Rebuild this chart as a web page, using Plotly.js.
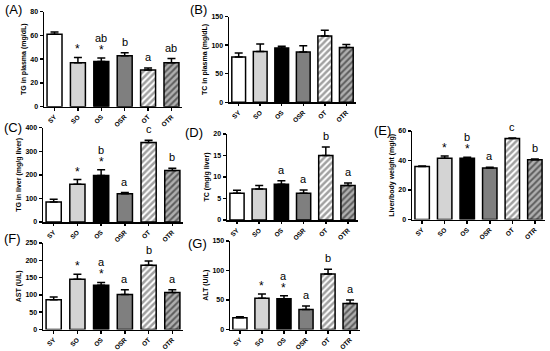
<!DOCTYPE html>
<html>
<head>
<meta charset="utf-8">
<script src="https://cdn.plot.ly/plotly-3.0.1.min.js"></script>
<style>
html,body{margin:0;padding:0;background:#fff;}
#chart{width:550px;height:351px;}
</style>
</head>
<body>
<div id="chart"></div>
<script>
// ---- data ----
var categories = ["SY", "SO", "OS", "OSR", "OT", "OTR"];

var tgPlasma      = [61, 37, 38, 43, 31, 37];
var tgPlasmaErr   = [2, 4.5, 3, 2.5, 1.5, 3.5];
var tgPlasmaStar  = ["", "*", "*", "", "", ""];
var tgPlasmaLet   = ["", "", "ab", "b", "a", "ab"];

var tcPlasma      = [79, 89, 95, 88, 116, 96];
var tcPlasmaErr   = [7, 13, 3, 11, 10, 5];
var tcPlasmaStar  = ["", "", "", "", "", ""];
var tcPlasmaLet   = ["", "", "", "", "", ""];

var tgLiver       = [85, 160, 197, 120, 337, 218];
var tgLiverErr    = [12, 20, 25, 5, 10, 10];
var tgLiverStar   = ["", "*", "*", "", "", ""];
var tgLiverLet    = ["", "", "b", "a", "c", "b"];

var tcLiver       = [6.2, 7.2, 8.3, 6.2, 15, 8];
var tcLiverErr    = [0.7, 0.8, 0.8, 0.8, 2, 0.6];
var tcLiverStar   = ["", "", "", "", "", ""];
var tcLiverLet    = ["", "", "a", "a", "b", "a"];

var liverBody     = [36, 41.5, 41.5, 35, 55, 40.5];
var liverBodyErr  = [0.3, 1.5, 0.7, 0.5, 0.3, 0.5];
var liverBodyStar = ["", "*", "*", "", "", ""];
var liverBodyLet  = ["", "", "b", "a", "c", "b"];

var ast           = [86, 145, 128, 101, 186, 107];
var astErr        = [8, 15, 8, 14, 12, 8];
var astStar       = ["", "*", "*", "", "", ""];
var astLet        = ["", "", "a", "a", "b", "a"];

var alt           = [20, 53, 52, 34, 94, 44];
var altErr        = [1.5, 7, 5, 6, 8, 6];
var altStar       = ["", "*", "*", "", "", ""];
var altLet        = ["", "", "a", "a", "b", "a"];

// ---- styles ----
var barColors   = ["#ffffff", "#d4d4d4", "#000000", "#7f7f7f", "#ffffff", "#5e5e5e"];
var patShapes   = ["", "", "", "", "/", "/"];

var W = 550, H = 351;
function px(a, b) { return [a / W, b / W]; }
function py(top, bottom) { return [1 - bottom / H, 1 - top / H]; }

var panels = [
  {id: "", vals: tgPlasma, err: tgPlasmaErr, star: tgPlasmaStar, lett: tgPlasmaLet,
   title: "TG in plasma (mg/dL)", ymax: 80, dtick: 20, x: px(44, 182), y: py(11.7, 106.7),
   label: "(A)", lx: 3, ly: 10},
  {id: "2", vals: tcPlasma, err: tcPlasmaErr, star: tcPlasmaStar, lett: tcPlasmaLet,
   title: "TC in plasma (mg/dL)", ymax: 150, dtick: 50, x: px(229, 356), y: py(16.5, 102.3),
   label: "(B)", lx: 188, ly: 10},
  {id: "3", vals: tgLiver, err: tgLiverErr, star: tgLiverStar, lett: tgLiverLet,
   title: "TG in liver (mg/g liver)", ymax: 400, dtick: 100, x: px(43, 183), y: py(127.7, 222),
   label: "(C)", lx: 2, ly: 128},
  {id: "4", vals: tcLiver, err: tcLiverErr, star: tcLiverStar, lett: tcLiverLet,
   title: "TC (mg/g liver)", ymax: 20, dtick: 5, x: px(227, 358), y: py(134, 220),
   label: "(D)", lx: 183, ly: 132},
  {id: "5", vals: liverBody, err: liverBodyErr, star: liverBodyStar, lett: liverBodyLet,
   title: "Liver/body weight (mg/g)", ymax: 60, dtick: 20, x: px(412, 545), y: py(131, 219.5),
   label: "(E)", lx: 372, ly: 131},
  {id: "6", vals: ast, err: astErr, star: astStar, lett: astLet,
   title: "AST (U/L)", ymax: 250, dtick: 50, x: px(43, 183), y: py(243, 329.5),
   label: "(F)", lx: 2, ly: 239},
  {id: "7", vals: alt, err: altErr, star: altStar, lett: altLet,
   title: "ALT (U/L)", ymax: 150, dtick: 50, x: px(230, 360), y: py(241, 329.5),
   label: "(G)", lx: 186, ly: 243}
];

var FONT = "Liberation Sans, Arial, sans-serif";
var traces = [];
var layout = {
  width: W, height: H,
  margin: {l: 0, r: 0, t: 0, b: 0},
  paper_bgcolor: "#fff", plot_bgcolor: "rgba(0,0,0,0)",
  showlegend: false,
  font: {family: FONT, color: "#000"},
  annotations: []
};

panels.forEach(function (p) {
  var xa = "x" + p.id, ya = "y" + p.id;
  var zeros = p.vals.map(function () { return 0; });
  traces.push({
    type: "bar", x: categories, y: p.vals, xaxis: xa, yaxis: ya,
    width: 0.64,
    marker: {
      color: barColors,
      line: {color: "#000", width: 1.5},
      pattern: {shape: patShapes, fgcolor: "#000000", bgcolor: barColors,
                size: 4.5, solidity: 0.55, fillmode: "overlay"}
    },
    error_y: {type: "data", symmetric: false, array: p.err, arrayminus: zeros,
              color: "#000", thickness: 1.5, width: 4},
    hoverinfo: "none"
  });
  layout["xaxis" + p.id] = {
    domain: p.x, anchor: ya, type: "category", range: [-0.45, 5.45],
    showline: true, linecolor: "#000", linewidth: 1.5,
    ticks: "outside", ticklen: 2.5, tickwidth: 1.5, tickcolor: "#000",
    tickangle: -45, tickfont: {family: FONT, size: 6.5, color: "#000", weight: "bold"},
    showgrid: false, zeroline: false, fixedrange: true
  };
  layout["yaxis" + p.id] = {
    domain: p.y, anchor: xa, range: [0, p.ymax], dtick: p.dtick, tick0: 0,
    showline: true, linecolor: "#000", linewidth: 1.5,
    ticks: "outside", ticklen: 3, tickwidth: 1.5, tickcolor: "#000",
    tickfont: {family: FONT, size: 7, color: "#000", weight: "bold"},
    title: {text: p.title, font: {family: FONT, size: 7, color: "#000", weight: "bold"}, standoff: 3},
    showgrid: false, zeroline: false, fixedrange: true
  };

  // significance marks above error bars
  categories.forEach(function (c, i) {
    var top = p.vals[i] + p.err[i];
    var shift = 2;
    if (p.star[i]) {
      layout.annotations.push({xref: xa, yref: ya, x: c, y: top, text: p.star[i],
        showarrow: false, yanchor: "bottom", yshift: shift - 3,
        font: {family: FONT, size: 12, color: "#000000"}});
      shift += 9;
    }
    if (p.lett[i]) {
      layout.annotations.push({xref: xa, yref: ya, x: c, y: top, text: p.lett[i],
        showarrow: false, yanchor: "bottom", yshift: shift + 1,
        font: {family: FONT, size: 11, color: "#000000"}});
    }
  });

  layout.annotations.push({xref: "paper", yref: "paper", x: p.lx / W, y: 1 - p.ly / H,
    xanchor: "left", yanchor: "middle", text: p.label, showarrow: false,
    font: {family: FONT, size: 13, color: "#000"}});
});

Plotly.newPlot("chart", traces, layout, {staticPlot: true, displayModeBar: false});
</script>
</body>
</html>
